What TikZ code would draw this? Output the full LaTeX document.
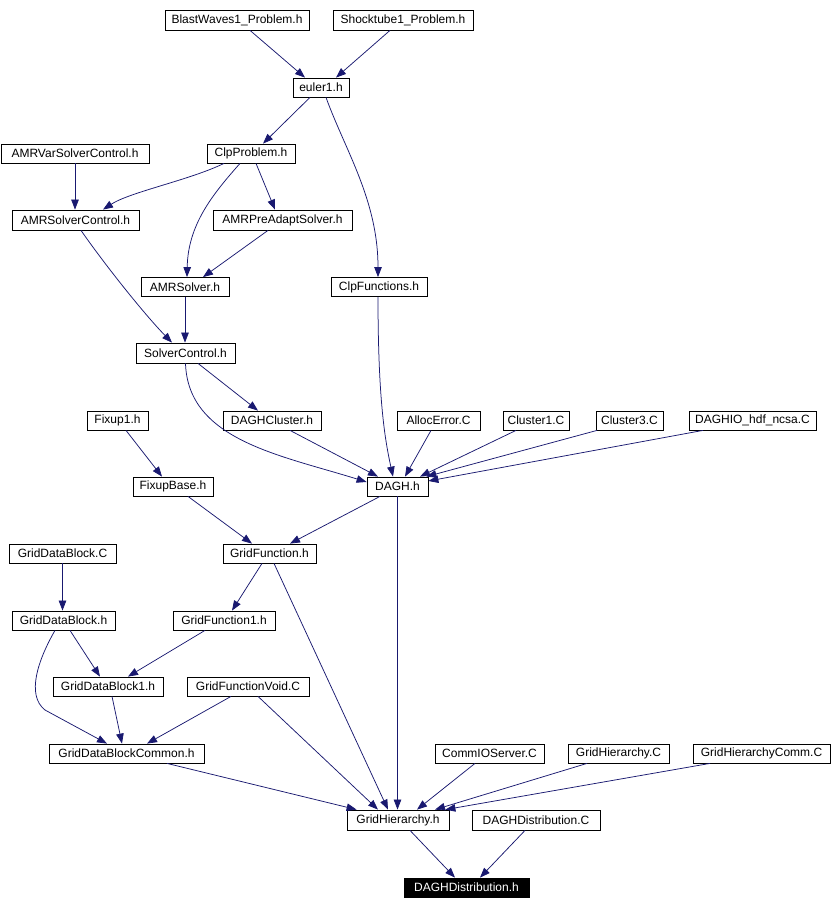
\documentclass[tikz,border=0pt]{standalone}
\usepackage{fontspec}
\setmainfont{Liberation Sans}
\usetikzlibrary{arrows.meta}
\definecolor{edgeblue}{RGB}{25,25,112}
\tikzset{
  filebox/.style={draw=black, line width=0.8pt, rectangle, inner sep=0pt, minimum height=19pt, font=\fontsize{12}{13}\selectfont, fill=white},
  mainbox/.style={filebox, fill=black, text=white},
  edge/.style={draw=edgeblue, line width=0.75pt, -{Triangle[length=10pt,width=7.5pt]}}
}
\begin{document}
\begin{tikzpicture}[x=1pt,y=-1pt]
\useasboundingbox (0,0) rectangle (834,909);
% nodes
\node[filebox, minimum width=144pt, minimum height=20pt] (blast) at (237,20) {BlastWaves1\_Problem.h};
\node[filebox, minimum width=140pt, minimum height=20pt] (shock) at (403,20) {Shocktube1\_Problem.h};
\node[filebox, minimum width=56pt] (euler) at (321,87.5) {euler1.h};
\node[filebox, minimum width=148pt] (amrvar) at (75,153.5) {AMRVarSolverControl.h};
\node[filebox, minimum width=88pt] (clpp) at (251,153.5) {ClpProblem.h};
\node[filebox, minimum width=127pt, minimum height=20pt] (amrsc) at (75.5,220) {AMRSolverControl.h};
\node[filebox, minimum width=139pt, minimum height=20pt] (amrpre) at (282.5,220) {AMRPreAdaptSolver.h};
\node[filebox, minimum width=88pt] (amrsolver) at (185,287) {AMRSolver.h};
\node[filebox, minimum width=96pt] (clpf) at (379,287) {ClpFunctions.h};
\node[filebox, minimum width=99pt, minimum height=20pt] (solverc) at (185.5,353) {SolverControl.h};
\node[filebox, minimum width=61pt] (fixup1) at (117.5,420.5) {Fixup1.h};
\node[filebox, minimum width=98pt] (daghcl) at (272,420.5) {DAGHCluster.h};
\node[filebox, minimum width=83pt] (alloc) at (438.5,420.5) {AllocError.C};
\node[filebox, minimum width=66pt] (cl1) at (536,420.5) {Cluster1.C};
\node[filebox, minimum width=67pt] (cl3) at (629.5,420.5) {Cluster3.C};
\node[filebox, minimum width=127pt] (daghio) at (752.5,420.5) {DAGHIO\_hdf\_ncsa.C};
\node[filebox, minimum width=80pt] (fixbase) at (173,486.5) {FixupBase.h};
\node[filebox, minimum width=61pt] (dagh) at (397.5,486.5) {DAGH.h};
\node[filebox, minimum width=107pt] (gdbc) at (62.5,553.5) {GridDataBlock.C};
\node[filebox, minimum width=93pt] (gf) at (269.5,553.5) {GridFunction.h};
\node[filebox, minimum width=103pt] (gdbh) at (63.5,620.5) {GridDataBlock.h};
\node[filebox, minimum width=102pt] (gf1) at (224,620.5) {GridFunction1.h};
\node[filebox, minimum width=110pt] (gdb1) at (108,686.5) {GridDataBlock1.h};
\node[filebox, minimum width=122pt] (gfv) at (248,686.5) {GridFunctionVoid.C};
\node[filebox, minimum width=155pt] (gdbcom) at (126.5,753.5) {GridDataBlockCommon.h};
\node[filebox, minimum width=109pt] (cios) at (489.5,753.5) {CommIOServer.C};
\node[filebox, minimum width=101pt] (ghc) at (618.5,753.5) {GridHierarchy.C};
\node[filebox, minimum width=137pt] (ghcomm) at (761.5,753.5) {GridHierarchyComm.C};
\node[filebox, minimum width=102pt, minimum height=20pt] (ghh) at (398,820) {GridHierarchy.h};
\node[filebox, minimum width=128pt, minimum height=20pt] (ddc) at (536,820) {DAGHDistribution.C};
\node[mainbox, minimum width=125pt] (ddh) at (466.5,887.5) {DAGHDistribution.h};
% edges
\draw[edge] ([xshift=13pt]blast.south) -- ([xshift=-16pt]euler.north);
\draw[edge] ([xshift=-13pt]shock.south) -- ([xshift=15pt]euler.north);
\draw[edge] ([xshift=-11pt]euler.south) -- ([xshift=12pt]clpp.north);
\draw[edge] ([xshift=5pt]euler.south) .. controls (345,150) and (378,200) .. ([xshift=-1pt]clpf.north);
\draw[edge] (amrvar.south) -- (amrvar.south |- amrsc.north);
\draw[edge] ([xshift=-27pt]clpp.south) .. controls (190,180) and (130,192) .. ([xshift=27.5pt]amrsc.north);
\draw[edge] ([xshift=-11pt]clpp.south) .. controls (212,195) and (188,225) .. ([xshift=2pt]amrsolver.north);
\draw[edge] ([xshift=5pt]clpp.south) -- ([xshift=-7.5pt]amrpre.north);
\draw[edge] ([xshift=-14.5pt]amrpre.south) -- ([xshift=18pt]amrsolver.north);
\draw[edge] ([xshift=5.5pt]amrsc.south) .. controls (105,265) and (145,315) .. ([xshift=-13.5pt]solverc.north);
\draw[edge] (amrsolver.south) -- (amrsolver.south |- solverc.north);
\draw[edge] ([xshift=12.5pt]solverc.south) -- ([xshift=-14pt]daghcl.north);
\draw[edge] (solverc.south) .. controls (188,440) and (280,455) .. ([yshift=4.5pt]dagh.west);
\draw[edge] ([xshift=-1pt]clpf.south) .. controls (378,400) and (385,440) .. ([xshift=-4.5pt]dagh.north);
\draw[edge] ([xshift=18pt]daghcl.south) -- ([xshift=-19.5pt]dagh.north);
\draw[edge] ([xshift=-7.5pt]alloc.south) -- ([xshift=7.5pt]dagh.north);
\draw[edge] ([xshift=-20pt]cl1.south) -- ([xshift=22.5pt]dagh.north);
\draw[edge] ([xshift=-32.5pt]cl3.south) -- ([xshift=-2pt]dagh.north east);
\draw[edge] ([xshift=-49.5pt]daghio.south) -- ([yshift=5.5pt]dagh.east);
\draw[edge] ([xshift=8.5pt]fixup1.south) -- ([xshift=-11pt]fixbase.north);
\draw[edge] ([xshift=15pt]fixbase.south) -- ([xshift=-17.5pt]gf.north);
\draw[edge] ([xshift=-17.5pt]dagh.south) -- ([xshift=20.5pt]gf.north);
\draw[edge] (dagh.south) -- (dagh.south |- ghh.north);
\draw[edge] (gdbc.south) -- (gdbc.south |- gdbh.north);
\draw[edge] ([xshift=-7.5pt]gf.south) -- ([xshift=8pt]gf1.north);
\draw[edge] ([xshift=4.5pt]gf.south) -- ([xshift=-10pt]ghh.north);
\draw[edge] ([xshift=6.5pt]gdbh.south) -- ([xshift=-8pt]gdb1.north);
\draw[edge] ([xshift=-8.5pt]gdbh.south) .. controls (38,660) and (26,695) .. (45,710) -- ([xshift=-19.5pt]gdbcom.north);
\draw[edge] ([xshift=-19pt]gf1.south) -- ([xshift=20pt]gdb1.north);
\draw[edge] ([xshift=4pt]gdb1.south) -- ([xshift=-4.5pt]gdbcom.north);
\draw[edge] ([xshift=-17pt]gfv.south) -- ([xshift=20.5pt]gdbcom.north);
\draw[edge] ([xshift=10pt]gfv.south) -- ([xshift=-20pt]ghh.north);
\draw[edge] ([xshift=40.5pt]gdbcom.south) -- ([xshift=10pt]ghh.north west);
\draw[edge] ([xshift=-14.5pt]cios.south) -- ([xshift=19pt]ghh.north);
\draw[edge] ([xshift=-31.5pt]ghc.south) -- ([xshift=37pt]ghh.north);
\draw[edge] ([xshift=-51.5pt]ghcomm.south) -- ([xshift=-4pt]ghh.north east);
\draw[edge] ([xshift=12pt]ghh.south) -- ([xshift=-11.5pt]ddh.north);
\draw[edge] ([xshift=-11pt]ddc.south) -- ([xshift=13.5pt]ddh.north);
\end{tikzpicture}
\end{document}
